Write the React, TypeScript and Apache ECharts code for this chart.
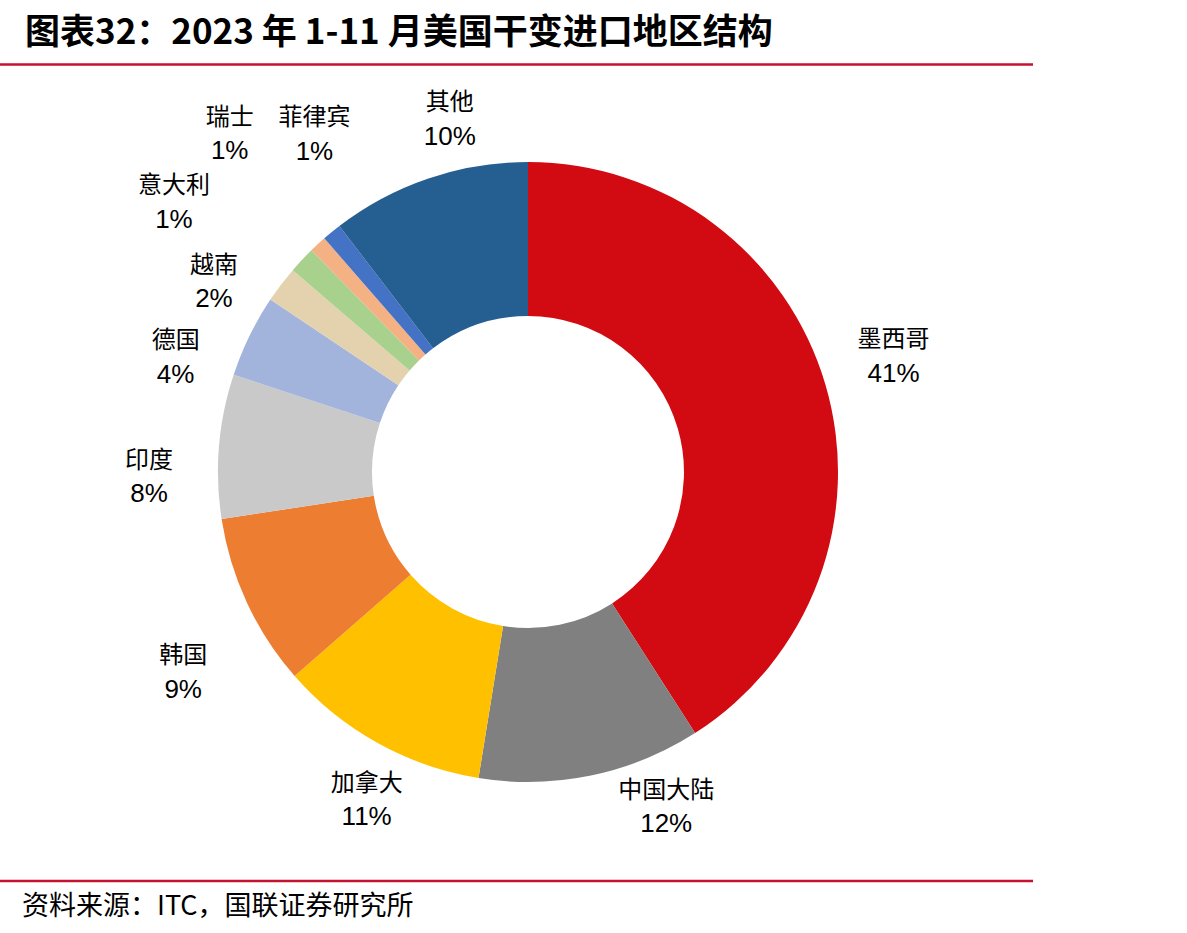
import React, { useEffect, useRef } from "react";
import * as echarts from "echarts";

// ---- data ----
const regions = ["墨西哥", "中国大陆", "加拿大", "韩国", "印度", "德国", "越南", "意大利", "瑞士", "菲律宾", "其他"];
const shares = [40.9, 11.6, 11.0, 9.0, 7.5, 4.3, 1.9, 1.4, 0.9, 1.0, 10.4];
const titleText = "图表32：2023 年 1-11 月美国干变进口地区结构";
const sourceText = "资料来源：ITC，国联证券研究所";

// ---- styles / placement ----
const sliceColors = [
  "#D20A11", "#808080", "#FFC000", "#ED7D31", "#C9C9C9", "#A2B4DC",
  "#E3D2AD", "#A9D18E", "#F4B183", "#4472C4", "#255E91",
];
// label block centre: distance from pie centre, and angular shift (deg) from slice middle
const labelRadius = [384, 361, 364, 398, 379, 371, 368, 446, 452, 401, 363];
const labelShift = [-1.5, -10.8, -2.7, -5.0, -5.3, -7.8, -5.8, -5.7, 1.4, 7.1, 6.3];

const CX = 528;
const CY = 472;
const RULE = "#C41230";

export default function App() {
  const ref = useRef<HTMLDivElement>(null);
  useEffect(() => {
    if (!ref.current) return;
    const chart = echarts.init(ref.current, undefined, { renderer: "svg" });
    const total = shares.reduce((a, b) => a + b, 0);
    const cum: number[] = [];
    let acc = 0;
    shares.forEach((v) => {
      cum.push(acc);
      acc += v;
    });
    chart.setOption({
      animation: false,
      backgroundColor: "#ffffff",
      graphic: [
        {
          type: "text",
          x: 25,
          y: 28,
          style: {
            text: titleText,
            fontSize: 35,
            fontWeight: "bold",
            fontFamily: "Noto Sans CJK SC",
            fill: "#000",
            align: "left",
            verticalAlign: "middle",
          },
        },
        {
          type: "line",
          shape: { x1: 0, y1: 64.5, x2: 1033, y2: 64.5 },
          style: { stroke: RULE, lineWidth: 2.5 },
        },
        {
          type: "line",
          shape: { x1: 0, y1: 881, x2: 1033, y2: 881 },
          style: { stroke: RULE, lineWidth: 2.5 },
        },
        {
          type: "text",
          x: 22,
          y: 903,
          style: {
            text: sourceText,
            fontSize: 27,
            fontFamily: "Noto Sans CJK SC",
            fill: "#000",
            align: "left",
            verticalAlign: "middle",
          },
        },
      ],
      series: [
        {
          type: "pie",
          center: [CX, CY],
          radius: [156, 310],
          startAngle: 90,
          clockwise: true,
          avoidLabelOverlap: false,
          itemStyle: { borderWidth: 0 },
          emphasis: { disabled: true },
          label: {
            show: true,
            position: "outside",
            formatter: (p: any) => `{n|${p.name}}\n{p|${Math.round(p.value)}%}`,
            rich: {
              n: { fontFamily: "Noto Sans CJK SC", fontSize: 24, lineHeight: 36, color: "#000", align: "center" },
              p: { fontFamily: "Liberation Sans", fontSize: 26, lineHeight: 36, color: "#000", align: "center" },
            },
          },
          labelLine: { show: false },
          labelLayout: (params: any) => {
            const i = params.dataIndex;
            const mid = ((cum[i] + shares[i] / 2) / total) * 360 + labelShift[i];
            const rad = (mid * Math.PI) / 180;
            return {
              x: CX + labelRadius[i] * Math.sin(rad),
              y: CY - labelRadius[i] * Math.cos(rad),
              align: "center",
              verticalAlign: "middle",
            };
          },
          data: regions.map((name, i) => ({
            name,
            value: shares[i],
            itemStyle: { color: sliceColors[i] },
          })),
        },
      ],
    });
    return () => chart.dispose();
  }, []);
  return (
    <div
      ref={ref}
      style={{ position: "absolute", left: 0, top: 0, width: 1187, height: 933 }}
    />
  );
}
